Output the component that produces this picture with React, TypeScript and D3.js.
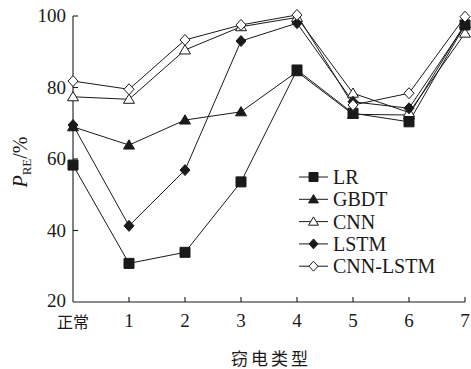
import { useEffect, useRef } from "react";
import * as d3 from "d3";

const categories = ["正常", "1", "2", "3", "4", "5", "6", "7"];
const yTicks = [20, 40, 60, 80, 100];

const seriesNames = ["LR", "GBDT", "CNN", "LSTM", "CNN-LSTM"];
const lrValues = [58.3, 30.8, 33.9, 53.6, 84.9, 72.8, 70.4, 97.5];
const gbdtValues = [69.0, 63.9, 70.9, 73.2, 84.4, 72.5, 72.3, 97.8];
const cnnValues = [77.4, 76.7, 90.5, 97.0, 99.6, 78.4, 73.0, 95.2];
const lstmValues = [69.5, 41.3, 56.9, 93.0, 98.0, 76.0, 74.2, 97.5];
const cnnLstmValues = [81.8, 79.5, 93.3, 97.5, 100.3, 75.1, 78.4, 99.8];

const INK = "#1a1a1a";
const SERIF = "Liberation Serif, serif";
const CJK = "Noto Sans CJK SC, sans-serif";

type Shape = "square" | "triangle" | "diamond";
const markers: { shape: Shape; filled: boolean }[] = [
  { shape: "square", filled: true },
  { shape: "triangle", filled: true },
  { shape: "triangle", filled: false },
  { shape: "diamond", filled: true },
  { shape: "diamond", filled: false },
];

function markerPath(shape: Shape, r: number) {
  if (shape === "square") return `M${-r},${-r}H${r}V${r}H${-r}Z`;
  if (shape === "diamond") return `M0,${-r * 1.1}L${r},0L0,${r * 1.1}L${-r},0Z`;
  return `M0,${-r * 1.05}L${r * 1.1},${r * 0.8}L${-r * 1.1},${r * 0.8}Z`;
}

export default function App() {
  const ref = useRef<SVGSVGElement>(null);

  useEffect(() => {
    const el = ref.current;
    if (!el) return;
    const svg = d3.select(el);
    svg.selectAll("*").remove();

    const allSeries = [lrValues, gbdtValues, cnnValues, lstmValues, cnnLstmValues];

    const x = d3.scalePoint<string>().domain(categories).range([73, 465]);
    const y = d3.scaleLinear().domain([20, 100]).range([302, 16]);

    // axes
    const g = svg.append("g");
    g.append("line")
      .attr("x1", x("正常")!).attr("x2", x("正常")!)
      .attr("y1", y(20)).attr("y2", y(100))
      .attr("stroke", INK).attr("stroke-width", 1.1);
    g.append("line")
      .attr("x1", x("正常")!).attr("x2", x("7")!)
      .attr("y1", y(20)).attr("y2", y(20))
      .attr("stroke", INK).attr("stroke-width", 1.1);

    yTicks.forEach((t) => {
      if (t !== 20) {
        g.append("line")
          .attr("x1", 73).attr("x2", 78)
          .attr("y1", y(t)).attr("y2", y(t))
          .attr("stroke", INK).attr("stroke-width", 1.1);
      }
      g.append("text")
        .attr("x", 66).attr("y", y(t) - (t === 20 ? 1 : 0))
        .attr("dy", "0.34em")
        .attr("text-anchor", "end")
        .attr("font-family", SERIF).attr("font-size", 19)
        .attr("fill", INK)
        .text(t);
    });

    categories.forEach((c, i) => {
      if (i > 0) {
        g.append("line")
          .attr("x1", x(c)!).attr("x2", x(c)!)
          .attr("y1", y(20)).attr("y2", y(20) - 5)
          .attr("stroke", INK).attr("stroke-width", 1.1);
      }
      g.append("text")
        .attr("x", x(c)!).attr("y", i === 0 ? 328 : 327)
        .attr("text-anchor", "middle")
        .attr("font-family", i === 0 ? CJK : SERIF)
        .attr("font-size", i === 0 ? 16 : 19)
        .attr("fill", INK)
        .text(c);
    });

    // axis titles
    g.append("text")
      .attr("x", 271).attr("y", 365)
      .attr("text-anchor", "middle")
      .attr("font-family", CJK)
      .attr("font-size", 17)
      .attr("letter-spacing", 3)
      .attr("fill", INK)
      .text("窃电类型");

    const yl = g.append("text")
      .attr("transform", "translate(27,162) rotate(-90)")
      .attr("text-anchor", "middle")
      .attr("font-family", SERIF)
      .attr("font-size", 20)
      .attr("fill", INK);
    yl.append("tspan").attr("font-style", "italic").text("P");
    yl.append("tspan").attr("font-size", 13).attr("dy", 4).text("RE");
    yl.append("tspan").attr("dy", -4).text("/%");

    // series
    const line = d3
      .line<number>()
      .x((_, i) => x(categories[i])!)
      .y((d) => y(d));

    allSeries.forEach((vals) => {
      g.append("path")
        .attr("d", line(vals))
        .attr("fill", "none")
        .attr("stroke", INK)
        .attr("stroke-width", 1);
    });

    allSeries.forEach((vals, si) => {
      const m = markers[si];
      g.selectAll(null)
        .data(vals)
        .enter()
        .append("path")
        .attr("transform", (d, i) => `translate(${x(categories[i])},${y(d)})`)
        .attr("d", markerPath(m.shape, 5))
        .attr("fill", m.filled ? INK : "#fff")
        .attr("stroke", INK)
        .attr("stroke-width", 1);
    });

    // legend
    const legend = g.append("g");
    seriesNames.forEach((name, i) => {
      const ly = 177 + i * 22.3;
      const m = markers[i];
      legend.append("line")
        .attr("x1", 299).attr("x2", 328)
        .attr("y1", ly).attr("y2", ly)
        .attr("stroke", INK).attr("stroke-width", 1);
      legend.append("path")
        .attr("transform", `translate(313.5,${ly})`)
        .attr("d", markerPath(m.shape, 4.5))
        .attr("fill", m.filled ? INK : "#fff")
        .attr("stroke", INK).attr("stroke-width", 1);
      legend.append("text")
        .attr("x", 333).attr("y", ly)
        .attr("dy", "0.35em")
        .attr("font-family", SERIF).attr("font-size", 20)
        .attr("fill", INK)
        .text(name);
    });
  }, []);

  return (
    <svg
      ref={ref}
      width={471}
      height={369}
      style={{ position: "absolute", left: 0, top: 0, background: "#fff" }}
    />
  );
}
